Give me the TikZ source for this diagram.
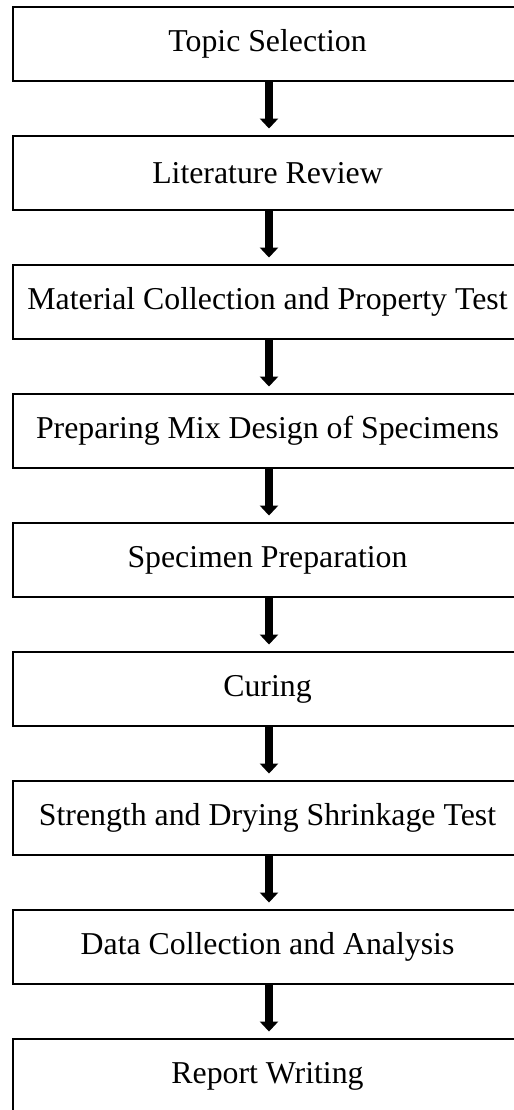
\documentclass[tikz,border=0pt]{standalone}
\usepackage{fontspec}
\setmainfont{Liberation Serif}
\usetikzlibrary{arrows.meta}
\tikzstyle{process} = [rectangle, minimum width=10.18cm, minimum height=1.48cm, text centered, draw=black, line width=1.1pt, font=\fontsize{18.1}{21}\selectfont]
\tikzstyle{arrow} = [line width=5pt, -{Triangle[width=0.36cm, length=0.2cm]}, shorten >=0.13cm]

\begin{document}
\begin{tikzpicture}[node distance=2.58cm]
\useasboundingbox (0,0) rectangle (10.28,-22.2);
% Steps of the study, top to bottom
\node (topic) [process] at (5.35,-0.88) {Topic Selection};
\node (review) [process, below of=topic] {Literature Review};
\node (material) [process, below of=review] {Material Collection and Property Test};
\node (mixdesign) [process, below of=material] {Preparing Mix Design of Specimens};
\node (specimen) [process, below of=mixdesign] {Specimen Preparation};
\node (curing) [process, below of=specimen] {Curing};
\node (strength) [process, below of=curing] {Strength and Drying Shrinkage Test};
\node (data) [process, below of=strength] {Data Collection and Analysis};
\node (report) [process, below of=data] {Report Writing};

% Arrows between steps (a little right of the box centres)
\draw [arrow] ([xshift=0.03cm]topic.south) -- ([xshift=0.03cm]review.north);
\draw [arrow] ([xshift=0.03cm]review.south) -- ([xshift=0.03cm]material.north);
\draw [arrow] ([xshift=0.03cm]material.south) -- ([xshift=0.03cm]mixdesign.north);
\draw [arrow] ([xshift=0.03cm]mixdesign.south) -- ([xshift=0.03cm]specimen.north);
\draw [arrow] ([xshift=0.03cm]specimen.south) -- ([xshift=0.03cm]curing.north);
\draw [arrow] ([xshift=0.03cm]curing.south) -- ([xshift=0.03cm]strength.north);
\draw [arrow] ([xshift=0.03cm]strength.south) -- ([xshift=0.03cm]data.north);
\draw [arrow] ([xshift=0.03cm]data.south) -- ([xshift=0.03cm]report.north);
\end{tikzpicture}
\end{document}
